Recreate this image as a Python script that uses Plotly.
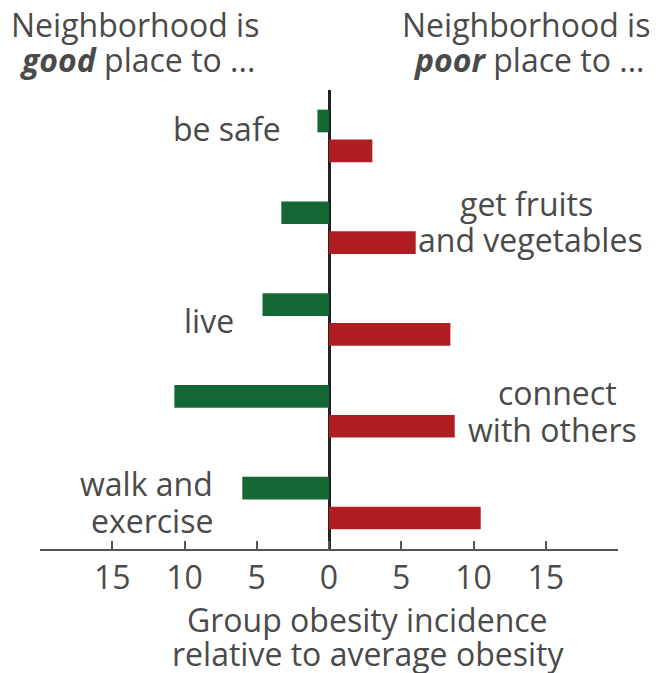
import plotly.graph_objects as go

categories = ["be safe", "get fruits and vegetables", "live", "connect with others", "walk and exercise"]
good_values = [-0.8, -3.3, -4.6, -10.7, -6.0]
poor_values = [3.0, 6.0, 8.4, 8.7, 10.5]
tick_vals = [-15, -10, -5, 0, 5, 10, 15]
tick_text = ["15", "10", "5", "0", "5", "10", "15"]

GREEN = "#136836"
RED = "#B01E24"
TXT = "#4a4a4a"
FONT = "Open Sans"
fs = 32

W, H = 665, 673
L, R, T, B = 40, 47, 90, 124
pw, ph = W - L - R, H - T - B


def px(x):
    return (x - L) / pw


def py(y):
    return 1 - (y - T) / ph


fig = go.Figure()
fig.add_trace(go.Bar(y=categories, x=good_values, orientation="h",
                     marker=dict(color=GREEN, line=dict(width=0)), name="good",
                     hoverinfo="skip"))
fig.add_trace(go.Bar(y=categories, x=poor_values, orientation="h",
                     marker=dict(color=RED, line=dict(width=0)), name="poor",
                     hoverinfo="skip"))

ann = []


def a(text, x, y, xanchor="center"):
    ann.append(dict(text=text, x=px(x), y=py(y), xref="paper", yref="paper",
                    xanchor=xanchor, yanchor="middle", showarrow=False,
                    font=dict(family=FONT, size=fs, color=TXT)))


# header texts
a("Neighborhood is", 135, 24)
a("<b><i>good</i></b> place to ...", 137, 59.5)
a("Neighborhood is", 525.5, 24)
a("<b><i>poor</i></b> place to ...", 529, 59.5)
# category labels
a("be safe", 283, 128.5, xanchor="right")
a("get fruits", 526, 203)
a("and vegetables", 530, 240)
a("live", 236, 320.5, xanchor="right")
a("connect", 557, 392)
a("with others", 552.5, 429)
a("walk and", 215, 483, xanchor="right")
a("exercise", 215, 520, xanchor="right")
# axis title
a("Group obesity incidence", 367.5, 619)
a("relative to average obesity", 367.5, 653)

fig.update_layout(
    width=W, height=H,
    margin=dict(l=L, r=R, t=T, b=B, pad=0),
    paper_bgcolor="white", plot_bgcolor="white",
    barmode="group", bargap=0.35, bargroupgap=0.24,
    showlegend=False,
    font=dict(family=FONT, size=fs, color=TXT),
    annotations=ann,
    xaxis=dict(range=[-20, 20], tickvals=tick_vals, ticktext=tick_text,
               showgrid=False, zeroline=True, zerolinecolor="#222222", zerolinewidth=2.5,
               showline=True, linecolor="#555555", linewidth=1.5,
               ticks="inside", ticklen=8, tickcolor="#555555", tickwidth=1.5,
               tickfont=dict(family=FONT, size=fs, color=TXT), fixedrange=True),
    yaxis=dict(autorange="reversed", showticklabels=False, showgrid=False,
               zeroline=False, showline=False, ticks="", fixedrange=True),
)

fig.write_html("out.html", config={"displayModeBar": False},
               post_script="document.body.style.margin='0px';")
